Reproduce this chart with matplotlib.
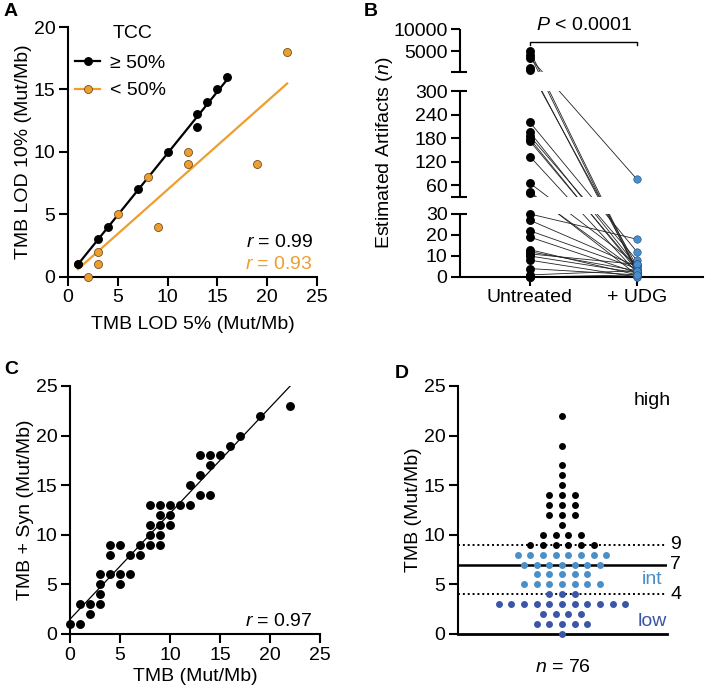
import numpy as np
import matplotlib
matplotlib.use("Agg")
import matplotlib.pyplot as plt
from matplotlib.lines import Line2D

plt.rcParams['font.family'] = ['Liberation Sans', 'DejaVu Sans']
plt.rcParams['mathtext.fontset'] = 'custom'
plt.rcParams['mathtext.rm'] = 'Liberation Sans'
plt.rcParams['mathtext.it'] = 'Liberation Sans:italic'
plt.rcParams['axes.linewidth'] = 1.5

# ---------------- data ----------------
# Panel A
a_hi_x = [1, 3, 4, 7, 10, 13, 13, 14, 15, 16]
a_hi_y = [1, 3, 4, 7, 10, 12, 13, 14, 15, 16]
a_lo_x = [1, 2, 3, 3, 5, 8, 9, 12, 12, 19, 22]
a_lo_y = [1, 0, 1, 2, 5, 8, 4, 9, 10, 9, 18]
a_r_hi = "0.99"
a_r_lo = "0.93"

# Panel B (paired samples)
b_untreated = [5000, 4200, 3500, 1100, 700, 220, 195, 185, 178, 172, 133, 65, 43, 40,
               30, 27, 22, 19, 13, 12, 11, 10, 8, 4, 1, 0, 0]
b_udg = [3, 2, 75, 3, 5, 12, 5, 8, 3, 4, 2, 6, 1, 3,
         18, 5, 4, 2, 1, 3, 6, 2, 0, 1, 3, 0, 1]
b_groups = ["Untreated", "+ UDG"]
b_ticks = [0, 10, 20, 30, 60, 120, 180, 240, 300, 5000, 10000]

# Panel C
c_x = [0, 1, 1, 2, 2, 3, 3, 3, 3, 4, 4, 4, 5, 5, 5, 6, 6, 7, 7, 8, 8, 8, 8,
       9, 9, 9, 9, 9, 10, 10, 10, 11, 12, 12, 13, 13, 13, 14, 14, 14, 15, 16, 17, 19, 22]
c_y = [1, 1, 3, 2, 3, 3, 4, 5, 6, 6, 8, 9, 5, 6, 9, 6, 8, 8, 9, 9, 10, 11, 13,
       9, 10, 11, 12, 13, 11, 12, 13, 13, 13, 15, 14, 16, 18, 14, 17, 18, 18, 19, 20, 22, 23]
c_r = "0.97"

# Panel D (TMB value levels and number of samples at each level)
d_levels = [22, 19, 17, 16, 15, 14, 13, 12, 11, 10, 9, 8, 7, 6, 5, 4, 3, 2, 1, 0]
d_counts = [1, 1, 1, 1, 1, 3, 3, 3, 1, 4, 6, 8, 7, 5, 7, 3, 11, 4, 5, 1]
d_cut_high = 9
d_cut_mid = 7
d_cut_low = 4
d_n = 76

ORANGE = '#EE9E2E'
LBLUE = '#4B8FC8'
DBLUE = '#3A56A5'
UDGBLUE = '#4A8DCA'

W, H = 709, 688
fig = plt.figure(figsize=(W / 100, H / 100), dpi=100)

FS = 14
LET = 14


def rect(l, t, r, b):
    return [l / W, 1 - b / H, (r - l) / W, (b - t) / H]


def style(ax):
    for s in ['top', 'right']:
        ax.spines[s].set_visible(False)
    ax.tick_params(direction='out', length=6.5, width=1.5, labelsize=FS, pad=2.5)


# ---------------- Panel A ----------------
axA = fig.add_axes(rect(68, 27, 317, 277))
style(axA)
axA.set_xlim(0, 25)
axA.set_ylim(0, 20)
axA.set_xticks(range(0, 26, 5))
axA.set_yticks(range(0, 21, 5))
for xs, ys, col in [(a_hi_x, a_hi_y, 'black'), (a_lo_x, a_lo_y, ORANGE)]:
    p = np.polyfit(xs, ys, 1)
    xx = np.array([min(xs), max(xs)])
    axA.plot(xx, np.polyval(p, xx), color=col, lw=1.6, zorder=2)
axA.plot(a_hi_x, a_hi_y, 'o', color='black', ms=5.4, zorder=4, clip_on=False)
axA.plot(a_lo_x, a_lo_y, 'o', mfc=ORANGE, mec='#5a3a10', mew=0.5, ms=5.8, zorder=3, clip_on=False)
axA.set_xlabel('TMB LOD 5% (Mut/Mb)', fontsize=FS, labelpad=7)
axA.set_ylabel('TMB LOD 10% (Mut/Mb)', fontsize=FS, labelpad=1)
axA.text(0.18, 0.976, 'TCC', transform=axA.transAxes, fontsize=FS, va='center', ha='left')
handles = [Line2D([], [], color='black', marker='o', ms=5.4, lw=1.6),
           Line2D([], [], color=ORANGE, marker='o', ms=5.8, mfc=ORANGE, mec='#5a3a10', mew=0.5, lw=1.6)]
axA.legend(handles, ['\u2265 50%', '< 50%'], loc='upper left', bbox_to_anchor=(0.03, 0.89),
           frameon=False, fontsize=FS, handlelength=1.25, handletextpad=0.55,
           labelspacing=0.5, borderaxespad=0, borderpad=0)
axA.text(0.985, 0.136, r'$r$ = ' + a_r_hi, transform=axA.transAxes, ha='right', va='center', fontsize=FS)
axA.text(0.985, 0.048, r'$r$ = ' + a_r_lo, transform=axA.transAxes, ha='right', va='center',
         fontsize=FS, color=ORANGE)
fig.text(4 / W, 1 - 12 / H, 'A', fontsize=LET, fontweight='bold', va='center')

# ---------------- Panel B ----------------
axB = fig.add_axes(rect(460, 29, 703, 277))
style(axB)
eps = 1e-4
XP = [0, 30, 30 + eps, 300, 300 + eps, 10000]
FP = [0, 63, 80, 186, 205, 248]


def fwd(v):
    return np.interp(v, XP, FP)


def inv(p):
    return np.interp(p, FP, XP)


axB.set_yscale('function', functions=(fwd, inv))
axB.set_ylim(0, 10000)
axB.set_xlim(-0.654, 1.617)
axB.spines['left'].set_visible(False)
ticks = b_ticks + [30 + eps, 300 + eps]
labels = [str(t) for t in b_ticks] + ['', '']
axB.set_yticks(ticks)
axB.set_yticklabels(labels)
axB.yaxis.set_minor_locator(matplotlib.ticker.NullLocator())
ytr = axB.get_yaxis_transform()
for lo, hi in [(0, 30), (30 + eps, 300), (300 + eps, 10000)]:
    axB.plot([0, 0], [lo, hi], color='black', lw=1.5, transform=ytr, clip_on=False,
             solid_capstyle='butt', zorder=5)
for cap in [30, 30 + eps, 300, 300 + eps]:
    axB.plot([0, 0.028], [cap, cap], color='black', lw=1.5, transform=ytr, clip_on=False,
             solid_capstyle='butt', zorder=5)
for u, d in zip(b_untreated, b_udg):
    axB.plot([0, 1], [u, d], color='#222222', lw=0.6, zorder=1)
axB.axhspan(30, 30 + eps, color='white', lw=0, zorder=2)
axB.axhspan(300, 300 + eps, color='white', lw=0, zorder=2)
axB.plot(np.zeros(len(b_untreated)), b_untreated, 'o', color='black', ms=5.4, zorder=4, clip_on=False)
axB.plot(np.ones(len(b_udg)), b_udg, 'o', mfc=UDGBLUE, mec='#1f4f80', mew=0.4, ms=5.4,
         zorder=4, clip_on=False)
axB.set_xticks([0, 1])
axB.set_xticklabels(b_groups, fontsize=FS)
axB.set_ylabel(r'Estimated Artifacts ($n$)', fontsize=FS, labelpad=-1)
br_top, br_bot = 7100, 6300
axB.plot([0, 0, 1, 1], [br_bot, br_top, br_top, br_bot], color='black', lw=1.0, zorder=5)
axB.annotate(r'$P$ < 0.0001', xy=(0.5, br_top), xytext=(0, 12), textcoords='offset points',
             ha='center', va='center', fontsize=FS)
fig.text(364 / W, 1 - 12 / H, 'B', fontsize=LET, fontweight='bold', va='center')

# ---------------- Panel C ----------------
axC = fig.add_axes(rect(70, 386, 320, 634))
style(axC)
axC.set_xlim(0, 25)
axC.set_ylim(0, 25)
axC.set_xticks(range(0, 26, 5))
axC.set_yticks(range(0, 26, 5))
pc = np.polyfit(c_x, c_y, 1)
xx = np.array([0, (25 - pc[1]) / pc[0]])
axC.plot(xx, np.polyval(pc, xx), color='black', lw=0.9, zorder=2)
axC.plot(c_x, c_y, 'o', color='black', ms=5.4, zorder=3, clip_on=False)
axC.set_xlabel('TMB (Mut/Mb)', fontsize=FS, labelpad=3)
axC.set_ylabel('TMB + Syn (Mut/Mb)', fontsize=FS, labelpad=1)
axC.text(0.97, 0.052, r'$r$ = ' + c_r, transform=axC.transAxes, ha='right', va='center', fontsize=FS)
fig.text(4 / W, 1 - 370 / H, 'C', fontsize=LET, fontweight='bold', va='center')

# ---------------- Panel D ----------------
axD = fig.add_axes(rect(458, 386, 667, 634))
style(axD)
axD.spines['bottom'].set_visible(False)
axD.set_xlim(-8.2, 8.3)
axD.set_ylim(0, 25)
axD.set_yticks(range(0, 26, 5))
axD.set_xticks([])
axD.axhline(0, color='black', lw=2, zorder=1, clip_on=False)
axD.axhline(d_cut_mid, color='black', lw=1.8, zorder=1)
axD.axhline(d_cut_high, color='black', lw=1.4, ls=(0, (1, 1.5)), zorder=1)
axD.axhline(d_cut_low, color='black', lw=1.4, ls=(0, (1, 1.5)), zorder=1)
for lev, cnt in zip(d_levels, d_counts):
    offs = np.arange(cnt) - (cnt - 1) / 2
    col = 'black' if lev >= d_cut_high else (LBLUE if lev > d_cut_low else DBLUE)
    axD.plot(offs, np.full(cnt, lev), 'o', color=col, ms=5.0, mew=0, zorder=3, clip_on=False)
ytrD = axD.get_yaxis_transform()
for v in [d_cut_high, d_cut_mid, d_cut_low]:
    axD.text(1.015, v, str(v), transform=ytrD, fontsize=FS, va='center', ha='left')
axD.text(0.93, 23.5, 'high', transform=ytrD, fontsize=FS, ha='center', va='center', color='black')
axD.text(0.93, 5.5, 'int', transform=ytrD, fontsize=FS, ha='center', va='center', color=LBLUE)
axD.text(0.93, 1.3, 'low', transform=ytrD, fontsize=FS, ha='center', va='center', color=DBLUE)
axD.text(0.5, -0.135, r'$n$ = %d' % d_n, transform=axD.transAxes, fontsize=FS, ha='center', va='center')
axD.set_ylabel('TMB (Mut/Mb)', fontsize=FS, labelpad=1)
fig.text(395 / W, 1 - 373 / H, 'D', fontsize=LET, fontweight='bold', va='center')

fig.savefig('out.png', dpi=100)
